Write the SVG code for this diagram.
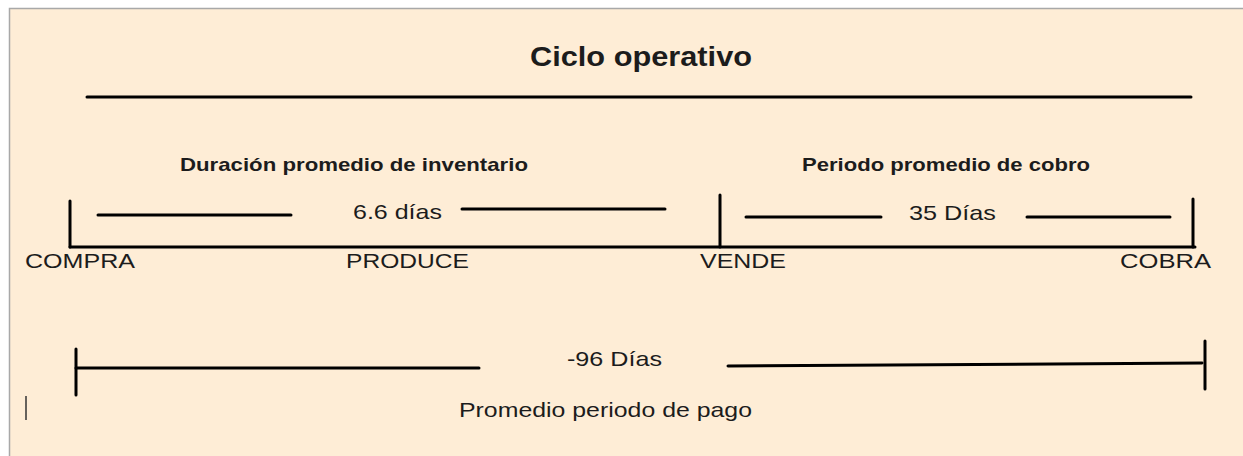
<svg xmlns="http://www.w3.org/2000/svg" width="1243" height="456" viewBox="0 0 1243 456">
<style>
.ln{stroke:#000;stroke-width:3;stroke-linecap:round;fill:none}
.t{font-family:"Liberation Sans",Arial,sans-serif;fill:#1c1c1c}
.r{font-size:21px}
.b{font-size:19px;font-weight:bold}
.h{font-size:28px;font-weight:bold}
</style>
<rect x="0" y="0" width="1243" height="456" fill="#ffffff"/>
<rect x="9.5" y="8.5" width="1250" height="460" fill="#FEEDD6" stroke="#A8A8A8" stroke-width="1.5"/>
<g id="title"><text class="t h" x="530" y="66" textLength="222" lengthAdjust="spacingAndGlyphs">Ciclo operativo</text></g>
<g id="inventario"><text class="t b" x="180" y="171" textLength="348" lengthAdjust="spacingAndGlyphs">Duración promedio de inventario</text>
<text class="t r" x="353" y="219" textLength="89" lengthAdjust="spacingAndGlyphs">6.6 días</text></g>
<g id="cobro"><text class="t b" x="802" y="171" textLength="288" lengthAdjust="spacingAndGlyphs">Periodo promedio de cobro</text>
<text class="t r" x="909" y="220" textLength="87" lengthAdjust="spacingAndGlyphs">35 Días</text></g>
<g id="compra"><text class="t r" x="25" y="268" textLength="110" lengthAdjust="spacingAndGlyphs">COMPRA</text></g>
<g id="produce"><text class="t r" x="346" y="268" textLength="123" lengthAdjust="spacingAndGlyphs">PRODUCE</text></g>
<g id="vende"><text class="t r" x="700" y="268" textLength="86" lengthAdjust="spacingAndGlyphs">VENDE</text></g>
<g id="cobra"><text class="t r" x="1120" y="268" textLength="91" lengthAdjust="spacingAndGlyphs">COBRA</text></g>
<g id="pago"><text class="t r" x="567" y="366" textLength="95" lengthAdjust="spacingAndGlyphs">-96 Días</text>
<text class="t r" x="459" y="417" textLength="293" lengthAdjust="spacingAndGlyphs">Promedio periodo de pago</text></g>
<g id="connectors">
<line class="ln" x1="87" y1="97" x2="1191" y2="97" stroke-width="3.5"/>
<line class="ln" x1="70" y1="201" x2="70" y2="247"/>
<line class="ln" x1="70" y1="247" x2="1195" y2="247"/>
<line class="ln" x1="98" y1="215" x2="291" y2="215"/>
<line class="ln" x1="462" y1="209" x2="665" y2="209"/>
<line class="ln" x1="720" y1="195" x2="720" y2="247"/>
<line class="ln" x1="746" y1="217" x2="881" y2="217"/>
<line class="ln" x1="1027" y1="217" x2="1170" y2="217"/>
<line class="ln" x1="1193" y1="199" x2="1193" y2="247"/>
<line class="ln" x1="76" y1="349" x2="76" y2="395"/>
<line class="ln" x1="76" y1="368" x2="479" y2="368"/>
<line class="ln" x1="728" y1="366" x2="1202" y2="363"/>
<line class="ln" x1="1205" y1="341" x2="1205" y2="389"/>
<line x1="26" y1="396" x2="26" y2="420" stroke="#333" stroke-width="1.5"/>
</g>
</svg>
